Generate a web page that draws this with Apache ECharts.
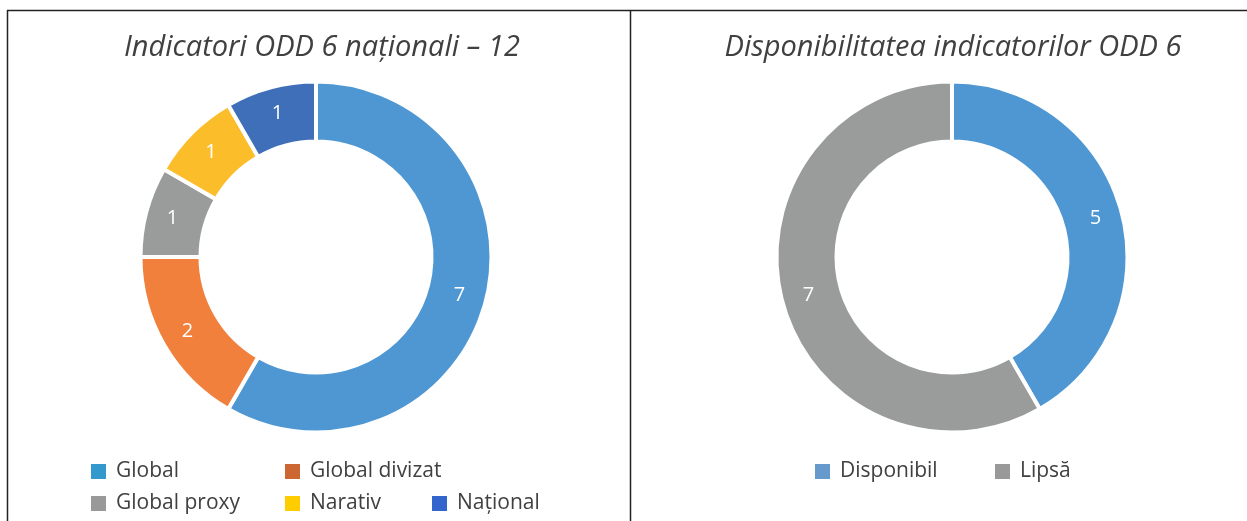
<!DOCTYPE html>
<html>
<head>
<meta charset="utf-8">
<script src="https://cdn.jsdelivr.net/npm/echarts@6/dist/echarts.min.js"></script>
<style>
  html, body { margin: 0; padding: 0; background: #fff; }
  #chart { width: 1247px; height: 521px; }
</style>
</head>
<body>
<div id="chart"></div>
<script>
// date
const leftTitle = "Indicatori ODD 6 naționali – 12";
const leftNames = ["Global", "Global divizat", "Global proxy", "Narativ", "Național"];
const leftValues = [7, 2, 1, 1, 1];
const leftColors = ["#4f97d3", "#f0803c", "#9a9c9c", "#fcbd2b", "#3e6fb8"];
const leftLegendColors = ["#3399cc", "#cc6633", "#999999", "#ffcc00", "#3366cc"];

const rightTitle = "Disponibilitatea indicatorilor ODD 6";
const rightNames = ["Disponibil", "Lipsă"];
const rightValues = [5, 7];
const rightColors = ["#4f97d3", "#9a9c9c"];
const rightLegendColors = ["#6699cc", "#999999"];

const textColor = "#404040";
const font = "'Open Sans', 'Noto Sans', sans-serif";

const chart = echarts.init(document.getElementById("chart"));

// pozitii legenda (ca in Excel, pe doua randuri)
const leftLegendPos = [[91, 461], [285, 461], [91, 493], [285, 493], [432, 493]];
const rightLegendPos = [[815, 461], [995, 461]];

const makeLegend = (name, color, pos) => ({
  data: [{ name: name, itemStyle: { color: color, borderWidth: 0 } }],
  left: pos[0],
  top: pos[1],
  padding: 0,
  icon: "rect",
  itemWidth: 15,
  itemHeight: 15,
  selectedMode: false,
  textStyle: {
    color: textColor,
    fontSize: 21,
    fontFamily: font,
    padding: [0, 0, 0, 5],
  },
});

const legends = [
  ...leftNames.map((n, i) => makeLegend(n, leftLegendColors[i], leftLegendPos[i])),
  ...rightNames.map((n, i) => makeLegend(n, rightLegendColors[i], rightLegendPos[i])),
];

const makePie = (names, values, colors, center) => ({
  type: "pie",
  center: center,
  radius: [115.5, 175.5],
  startAngle: 90,
  clockwise: true,
  avoidLabelOverlap: false,
  silent: true,
  itemStyle: { borderColor: "#fff", borderWidth: 4 },
  label: {
    show: true,
    position: "inside",
    color: "#fff",
    fontSize: 20,
    fontFamily: font,
    formatter: "{c}",
  },
  labelLine: { show: false },
  data: names.map((n, i) => ({ name: n, value: values[i], itemStyle: { color: colors[i] } })),
});

const titleStyle = { color: textColor, fontSize: 29, fontStyle: "italic", fontWeight: "normal", fontFamily: font };

chart.setOption({
  animation: false,
  backgroundColor: "#fff",
  title: [
    { text: leftTitle, left: 317, top: 28, textAlign: "center", textStyle: titleStyle },
    { text: rightTitle, left: 948, top: 28, textAlign: "center", textStyle: titleStyle },
  ],
  legend: legends,
  series: [
    makePie(leftNames, leftValues, leftColors, [316, 257]),
    makePie(rightNames, rightValues, rightColors, [952, 257]),
  ],
  // chenarul tabelului
  graphic: [
    { type: "line", shape: { x1: 7, y1: 10.5, x2: 1247, y2: 10.5 }, style: { stroke: "#222", lineWidth: 1.5 } },
    { type: "line", shape: { x1: 7.5, y1: 10, x2: 7.5, y2: 521 }, style: { stroke: "#222", lineWidth: 1.5 } },
    { type: "line", shape: { x1: 630.5, y1: 10, x2: 630.5, y2: 521 }, style: { stroke: "#222", lineWidth: 1.5 } },
  ],
});
</script>
</body>
</html>
